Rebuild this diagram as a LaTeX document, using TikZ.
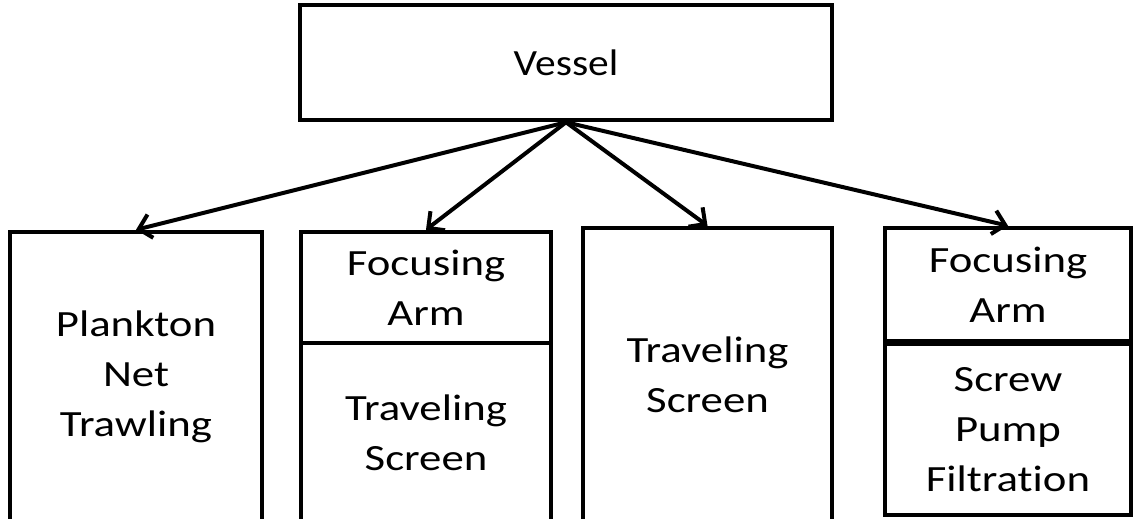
\documentclass[tikz,border=0pt]{standalone}
\usepackage{fontspec}
\setmainfont{Carlito}[FakeStretch=1.12, Ligatures=NoCommon]
\newfontfamily\wideface{Carlito}[FakeStretch=1.21, Ligatures=NoCommon]
\usetikzlibrary{arrows.meta,shadows}

\tikzset{
  box/.style={draw=black, line width=4.5pt, fill=white, rectangle, inner sep=0pt,
    align=center, font=\wideface\fontsize{37}{50}\selectfont},
  rootbox/.style={box, font=\fontsize{37}{50}\selectfont},
  link/.style={line width=4pt, draw=black,
    -{Straight Barb[length=12pt,width=24pt,line width=4pt]}},
  topshadow/.style={drop shadow={opacity=0.25, shadow xshift=2pt, shadow yshift=-2pt}}
}

\begin{document}
\begin{tikzpicture}[x=1pt, y=-1pt]
  \useasboundingbox (0,0) rectangle (1133,519);
  \clip (0,0) rectangle (1133,519);
  \fill[white] (0,0) rectangle (1133,519);

  % root
  \node[rootbox, topshadow, minimum width=532pt, minimum height=115pt] (vessel) at (566,62.5) {Vessel};

  % sampling methods
  \node[box, minimum width=252pt, minimum height=290pt] (plankton) at (136,377)
    {Plankton\\Net\\Trawling};

  \node[box, minimum width=250pt, minimum height=179pt] (screenA) at (426,432.5)
    {Traveling\\Screen};
  \node[box, minimum width=250pt, minimum height=111pt] (armA) at (426,287.5)
    {Focusing\\Arm};

  \node[box, minimum width=249pt, minimum height=294pt] (screenB) at (707.5,375)
    {Traveling\\Screen};

  \node[box, minimum width=246pt, minimum height=171pt] (pump) at (1008,429.5)
    {Screw\\Pump\\Filtration};
  \node[box, minimum width=246pt, minimum height=113pt] (armB) at (1008,284.5)
    {Focusing\\Arm};

  % connectors
  \draw[link] (vessel.south) -- (plankton.north);
  \draw[link] (vessel.south) -- (armA.north);
  \draw[link] (vessel.south) -- (screenB.north);
  \draw[link] (vessel.south) -- (armB.north);
\end{tikzpicture}
\end{document}
